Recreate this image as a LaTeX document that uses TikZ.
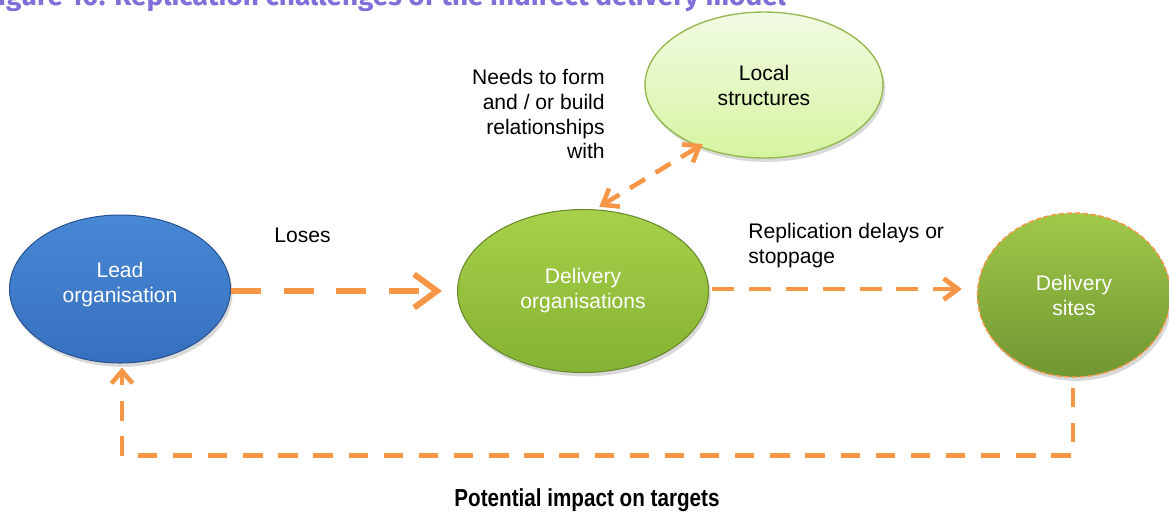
\documentclass[tikz,border=0pt]{standalone}
\usepackage{fontspec}
\setmainfont{Liberation Sans}
\newfontfamily\titlefont{Fira Sans}
\usetikzlibrary{arrows.meta,shapes.geometric,shadows,calc}
\definecolor{orng}{HTML}{F79646}
\definecolor{titlecol}{HTML}{7E6FD9}
\begin{document}
\begin{tikzpicture}[x=0.02cm,y=-0.02cm,
  lbl/.style={font=\fontsize{12}{14.2}\selectfont, text=black, inner sep=0pt},
  inlbl/.style={font=\fontsize{12}{14.2}\selectfont, text=white, align=center, inner sep=0pt},
  bubble/.style={ellipse, inner sep=0pt, drop shadow={opacity=0.3, shadow xshift=1.2pt, shadow yshift=-2.2pt}},
  conn/.style={draw=orng, line cap=butt},
]
\useasboundingbox (0,0) rectangle (1169,511);
\clip (0,0) rectangle (1169,511);

\node[anchor=base west, text=titlecol, font=\titlefont\bfseries\fontsize{15.9}{18}\selectfont, inner sep=0pt] (title) at (-15,5) {Figure 10: Replication challenges of the indirect delivery model};

% ellipses
\node[bubble, minimum width=4.42cm, minimum height=2.96cm, top color={rgb,255:red,72;green,136;blue,212}, bottom color={rgb,255:red,54;green,112;blue,190}, draw={rgb,255:red,42;green,84;blue,146}, line width=0.6pt] (lead) at (120,289) {};
\node[inlbl] (leadtxt) at ($(lead.center)+(0,-4)$) {Lead\\organisation};

\node[bubble, minimum width=5.02cm, minimum height=3.26cm, top color={rgb,255:red,168;green,208;blue,74}, bottom color={rgb,255:red,132;green,178;blue,50}, draw={rgb,255:red,104;green,138;blue,44}, line width=0.6pt, inlbl] (del) at (583,291) {Delivery\\organisations};

\node[bubble, minimum width=4.76cm, minimum height=2.92cm, top color={rgb,255:red,242;green,251;blue,228}, bottom color={rgb,255:red,214;green,244;blue,160}, draw={rgb,255:red,150;green,186;blue,84}, line width=0.8pt, font=\fontsize{12}{14.2}\selectfont, align=center, text=black] (loc) at (764,85) {Local\\structures};

\node[bubble, minimum width=3.86cm, minimum height=3.28cm, top color={rgb,255:red,160;green,200;blue,72}, bottom color={rgb,255:red,112;green,150;blue,50}, draw=orng, dash pattern=on 3pt off 1.5pt, line width=0.8pt, inlbl] (sites) at (1074,295) {Delivery\\sites};

% labels
\node[lbl, anchor=west] (loses) at (274,235) {Loses};
\node[lbl, anchor=west, align=left] (repl) at (748,246) {Replication delays or\\stoppage};
\node[lbl, anchor=east, align=right] (needs) at (605,114) {Needs to form\\and / or build\\relationships\\with};
\node[font=\bfseries\fontsize{14}{16}\selectfont, xscale=0.84, inner sep=0pt] (impact) at (587,500) {Potential impact on targets};

% connectors
\coordinate (a1) at ($(lead.east)+(0,2)$);
\draw[conn, line width=3.4pt, dash pattern=on 17pt off 13pt, -{Straight Barb[length=13pt,width=19pt]}, shorten >=0.3cm] (a1) -- (a1 -| del.west);

\coordinate (d1) at ($(del.east)+(3,-2)$);
\draw[conn, line width=2.8pt, dash pattern=on 12.5pt off 8.5pt, -{Straight Barb[length=8pt,width=12pt]}, shorten >=0.3cm] (d1) -- (d1 -| sites.west);

\coordinate (d2) at ($(del.78)+(-1,-3)$);
\coordinate (l2) at ($(loc.224)+(3,-3)$);
\draw[conn, line width=2.6pt, dash pattern=on 10pt off 7pt, {Straight Barb[length=8pt,width=12pt]}-{Straight Barb[length=8pt,width=12pt]}] (d2) -- (l2);

\coordinate (c1) at ($(sites.south)+(-1,78)$);
\draw[conn, line width=2.6pt, dash pattern=on 11pt off 9pt, -{Straight Barb[length=7pt,width=12pt]}, shorten <=0.2cm, shorten >=0.08cm] ($(sites.south)+(-1,0)$) -- (c1) -| ($(lead.south)+(2,0)$);
\end{tikzpicture}
\end{document}
